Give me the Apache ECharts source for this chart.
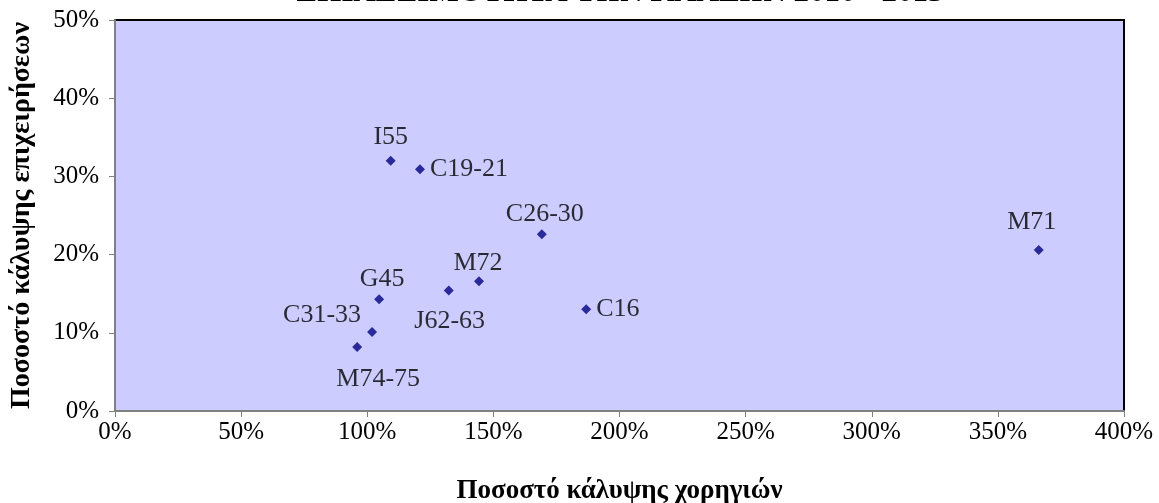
<!DOCTYPE html>
<html>
<head>
<meta charset="utf-8">
<script src="https://cdn.jsdelivr.net/npm/echarts@6/dist/echarts.min.js"></script>
<style>
html,body{margin:0;padding:0;background:#fff;}
#chart{width:1159px;height:503px;}
</style>
</head>
<body>
<div id="chart"></div>
<script>
const sectors = ['I55','C19-21','C26-30','M72','J62-63','G45','C31-33','M74-75','C16','M71'];
const grantCoverage = [109.3,120.9,169.2,144.3,132.3,104.7,101.9,96.0,186.8,366.2];
const firmCoverage = [32.0,30.9,22.6,16.6,15.4,14.3,10.1,8.2,13.0,20.6];
const xTicks = [0,50,100,150,200,250,300,350,400];
const yTicks = [0,10,20,30,40,50];
const titleText = 'ΕΠΙΛΕΞΙΜΟΤΗΤΑ ΤΩΝ ΚΛΑΔΩΝ 2010 - 2013';
const xTitle = 'Ποσοστό κάλυψης χορηγιών';
const yTitle = 'Ποσοστό κάλυψης επιχειρήσεων';

const labelPlacement = {
  'I55': {position:'top', offset:[0,-1]},
  'C19-21': {position:'right', offset:[0,0]},
  'C26-30': {position:'top', offset:[3,3]},
  'M72': {position:'top', offset:[-1,5]},
  'J62-63': {position:'bottom', offset:[1,8]},
  'G45': {position:'top', offset:[3,3]},
  'C31-33': {position:'left', offset:[-1,-17]},
  'M74-75': {position:'bottom', offset:[21,9]},
  'C16': {position:'right', offset:[0,0]},
  'M71': {position:'top', offset:[-7,-5]}
};

const data = sectors.map((n,i)=>({
  name:n,
  value:[grantCoverage[i], firmCoverage[i]],
  label: Object.assign({show:true, formatter:n}, labelPlacement[n])
}));

const font = '"Liberation Serif", "Times New Roman", serif';
const chart = echarts.init(document.getElementById('chart'), null, {renderer:'canvas'});
chart.setOption({
  animation:false,
  backgroundColor:'#fff',
  title:{
    text:titleText, left:615, textAlign:'center', top:-28,
    textStyle:{fontFamily:font, fontSize:31, fontWeight:'bold', color:'#000'}
  },
  grid:{left:115, right:35, top:20, bottom:92, outerBoundsMode:'none', containLabel:false, show:true, backgroundColor:'#CCCCFF', borderColor:'#000', borderWidth:2},
  xAxis:{
    type:'value', min:0, max:400, interval:50,
    name:xTitle, nameLocation:'middle', nameGap:67,
    nameTextStyle:{fontFamily:font, fontSize:27, fontWeight:'bold', color:'#000'},
    axisLine:{show:true, onZero:false, lineStyle:{color:'#808080', width:2}},
    axisTick:{show:true, length:6, lineStyle:{color:'#808080', width:1}},
    axisLabel:{fontFamily:font, fontSize:25, color:'#000', margin:9, formatter:v=>v+'%'},
    splitLine:{show:false}
  },
  yAxis:{
    type:'value', min:0, max:50, interval:10,
    name:yTitle, nameLocation:'middle', nameGap:79, nameRotate:90,
    nameTextStyle:{fontFamily:font, fontSize:28, fontWeight:'bold', color:'#000'},
    axisLine:{show:true, onZero:false, lineStyle:{color:'#808080', width:2}},
    axisTick:{show:true, length:6, lineStyle:{color:'#808080', width:1}},
    axisLabel:{fontFamily:font, fontSize:25, color:'#000', margin:16, formatter:v=>v+'%'},
    splitLine:{show:false}
  },
  series:[{
    type:'scatter',
    symbol:'diamond',
    symbolSize:10,
    itemStyle:{color:'#000080'},
    label:{fontFamily:font, fontSize:26, color:'#000'},
    data:data
  }]
});
</script>
</body>
</html>
